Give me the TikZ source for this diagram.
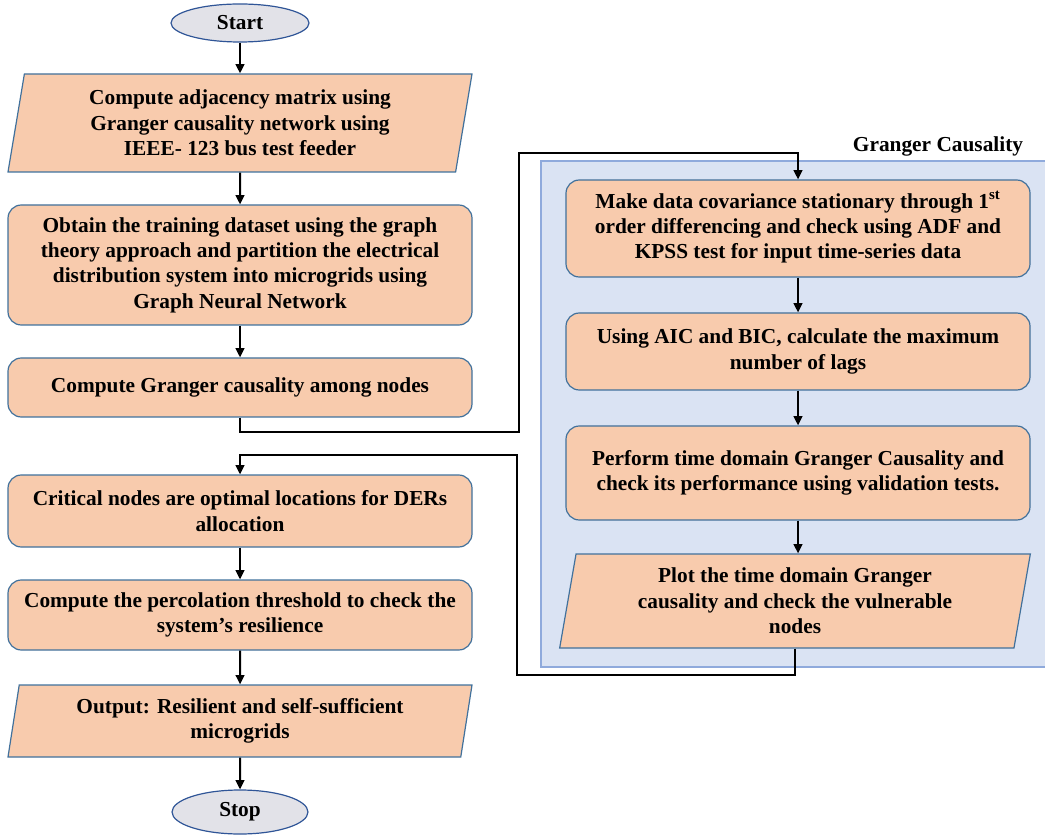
\documentclass[tikz,border=0pt]{standalone}
\usepackage{fontspec}
\setmainfont{Liberation Serif}
\usetikzlibrary{shapes.geometric,arrows.meta}
\definecolor{boxfill}{HTML}{F8CBAD}
\definecolor{boxline}{HTML}{41719C}
\definecolor{ovalfill}{HTML}{E2E2E8}
\definecolor{ovalline}{HTML}{2F5597}
\definecolor{panelfill}{HTML}{DAE3F3}
\definecolor{panelline}{HTML}{8FAADC}
\begin{document}
\begin{tikzpicture}[x=0.75pt,y=-0.75pt,
  font=\bfseries\fontsize{16}{19}\selectfont,
  proc/.style={draw=boxline, fill=boxfill, line width=0.9pt, rounded corners=10pt,
    align=center, minimum width=348pt, inner sep=0pt},
  para/.style={trapezium, trapezium left angle=76, trapezium right angle=104,
    trapezium stretches body=true, draw=boxline, fill=boxfill, line width=0.9pt,
    align=center, minimum width=348pt, inner sep=0pt},
  term/.style={ellipse, draw=ovalline, fill=ovalfill, line width=0.9pt, inner sep=0pt},
  conn/.style={line width=1.5pt, -{Triangle[length=7pt,width=6.5pt]}},
  plain/.style={line width=1.5pt}]
\useasboundingbox (0,0) rectangle (1045,837);

% panel
\draw[fill=panelfill, draw=panelline, line width=0.9pt] (541,161) rectangle (1060,667);
\node (gclabel) at (938,146) {Granger Causality};

% left column
\node[term, minimum width=103.5pt, minimum height=28.5pt] (start) at (240,23) {Start};
\node[para, minimum height=73.5pt] (L1) at (240,123)
  {Compute adjacency matrix using\\Granger causality network using\\IEEE- 123 bus test feeder};
\node[proc, minimum height=90pt] (L2) at (240,265)
  {Obtain the training dataset using the graph\\theory approach and partition the electrical\\distribution system into microgrids using\\Graph Neural Network};
\node[proc, minimum height=44.25pt] (L3) at (240,387.5)
  {Compute Granger causality among nodes};
\node[proc, minimum height=54pt] (L4) at (240,511)
  {Critical nodes are optimal locations for DERs\\allocation};
\node[proc, minimum height=52.5pt] (L5) at (240,615)
  {Compute the percolation threshold to check the\\system's resilience};
\node[para, minimum height=54pt] (L6) at (240,721)
  {Output: Resilient and self-sufficient\\microgrids};
\node[term, minimum width=102pt, minimum height=33pt] (stop) at (240,812) {Stop};

% right column
\node[proc, minimum height=72.75pt] (R1) at (798,228.5)
  {Make data covariance stationary through 1\smash{\textsuperscript{st}}\\order differencing and check using ADF and\\KPSS test for input time-series data};
\node[proc, minimum height=57.75pt] (R2) at (798,351.5)
  {Using AIC and BIC, calculate the maximum\\number of lags};
\node[proc, minimum height=70.5pt] (R3) at (798,473)
  {Perform time domain Granger Causality and\\check its performance using validation tests.};
\node[para, minimum width=353pt, minimum height=70.5pt] (R4) at (795,601)
  {Plot the time domain Granger\\causality and check the vulnerable\\nodes};

% connectors
\draw[conn] (start) -- (L1);
\draw[conn] (L1) -- (L2);
\draw[conn] (L2) -- (L3);
\draw[conn] (L4) -- (L5);
\draw[conn] (L5) -- (L6);
\draw[conn] (L6) -- (stop);
\draw[conn] (R1) -- (R2);
\draw[conn] (R2) -- (R3);
\draw[conn] (R3.south) -- (R3.south |- R4.north);

\coordinate (c1) at (519,432);
\coordinate (c2) at (519,153);
\coordinate (c3) at (517,675);
\coordinate (c4) at (517,455);
\draw[conn, line join=miter] (L3.south) |- (c1) -- (c2) -| (R1.north);
\draw[conn, line join=miter] (R4.south) |- (c3) -- (c4) -| (L4.north);
\end{tikzpicture}
\end{document}
